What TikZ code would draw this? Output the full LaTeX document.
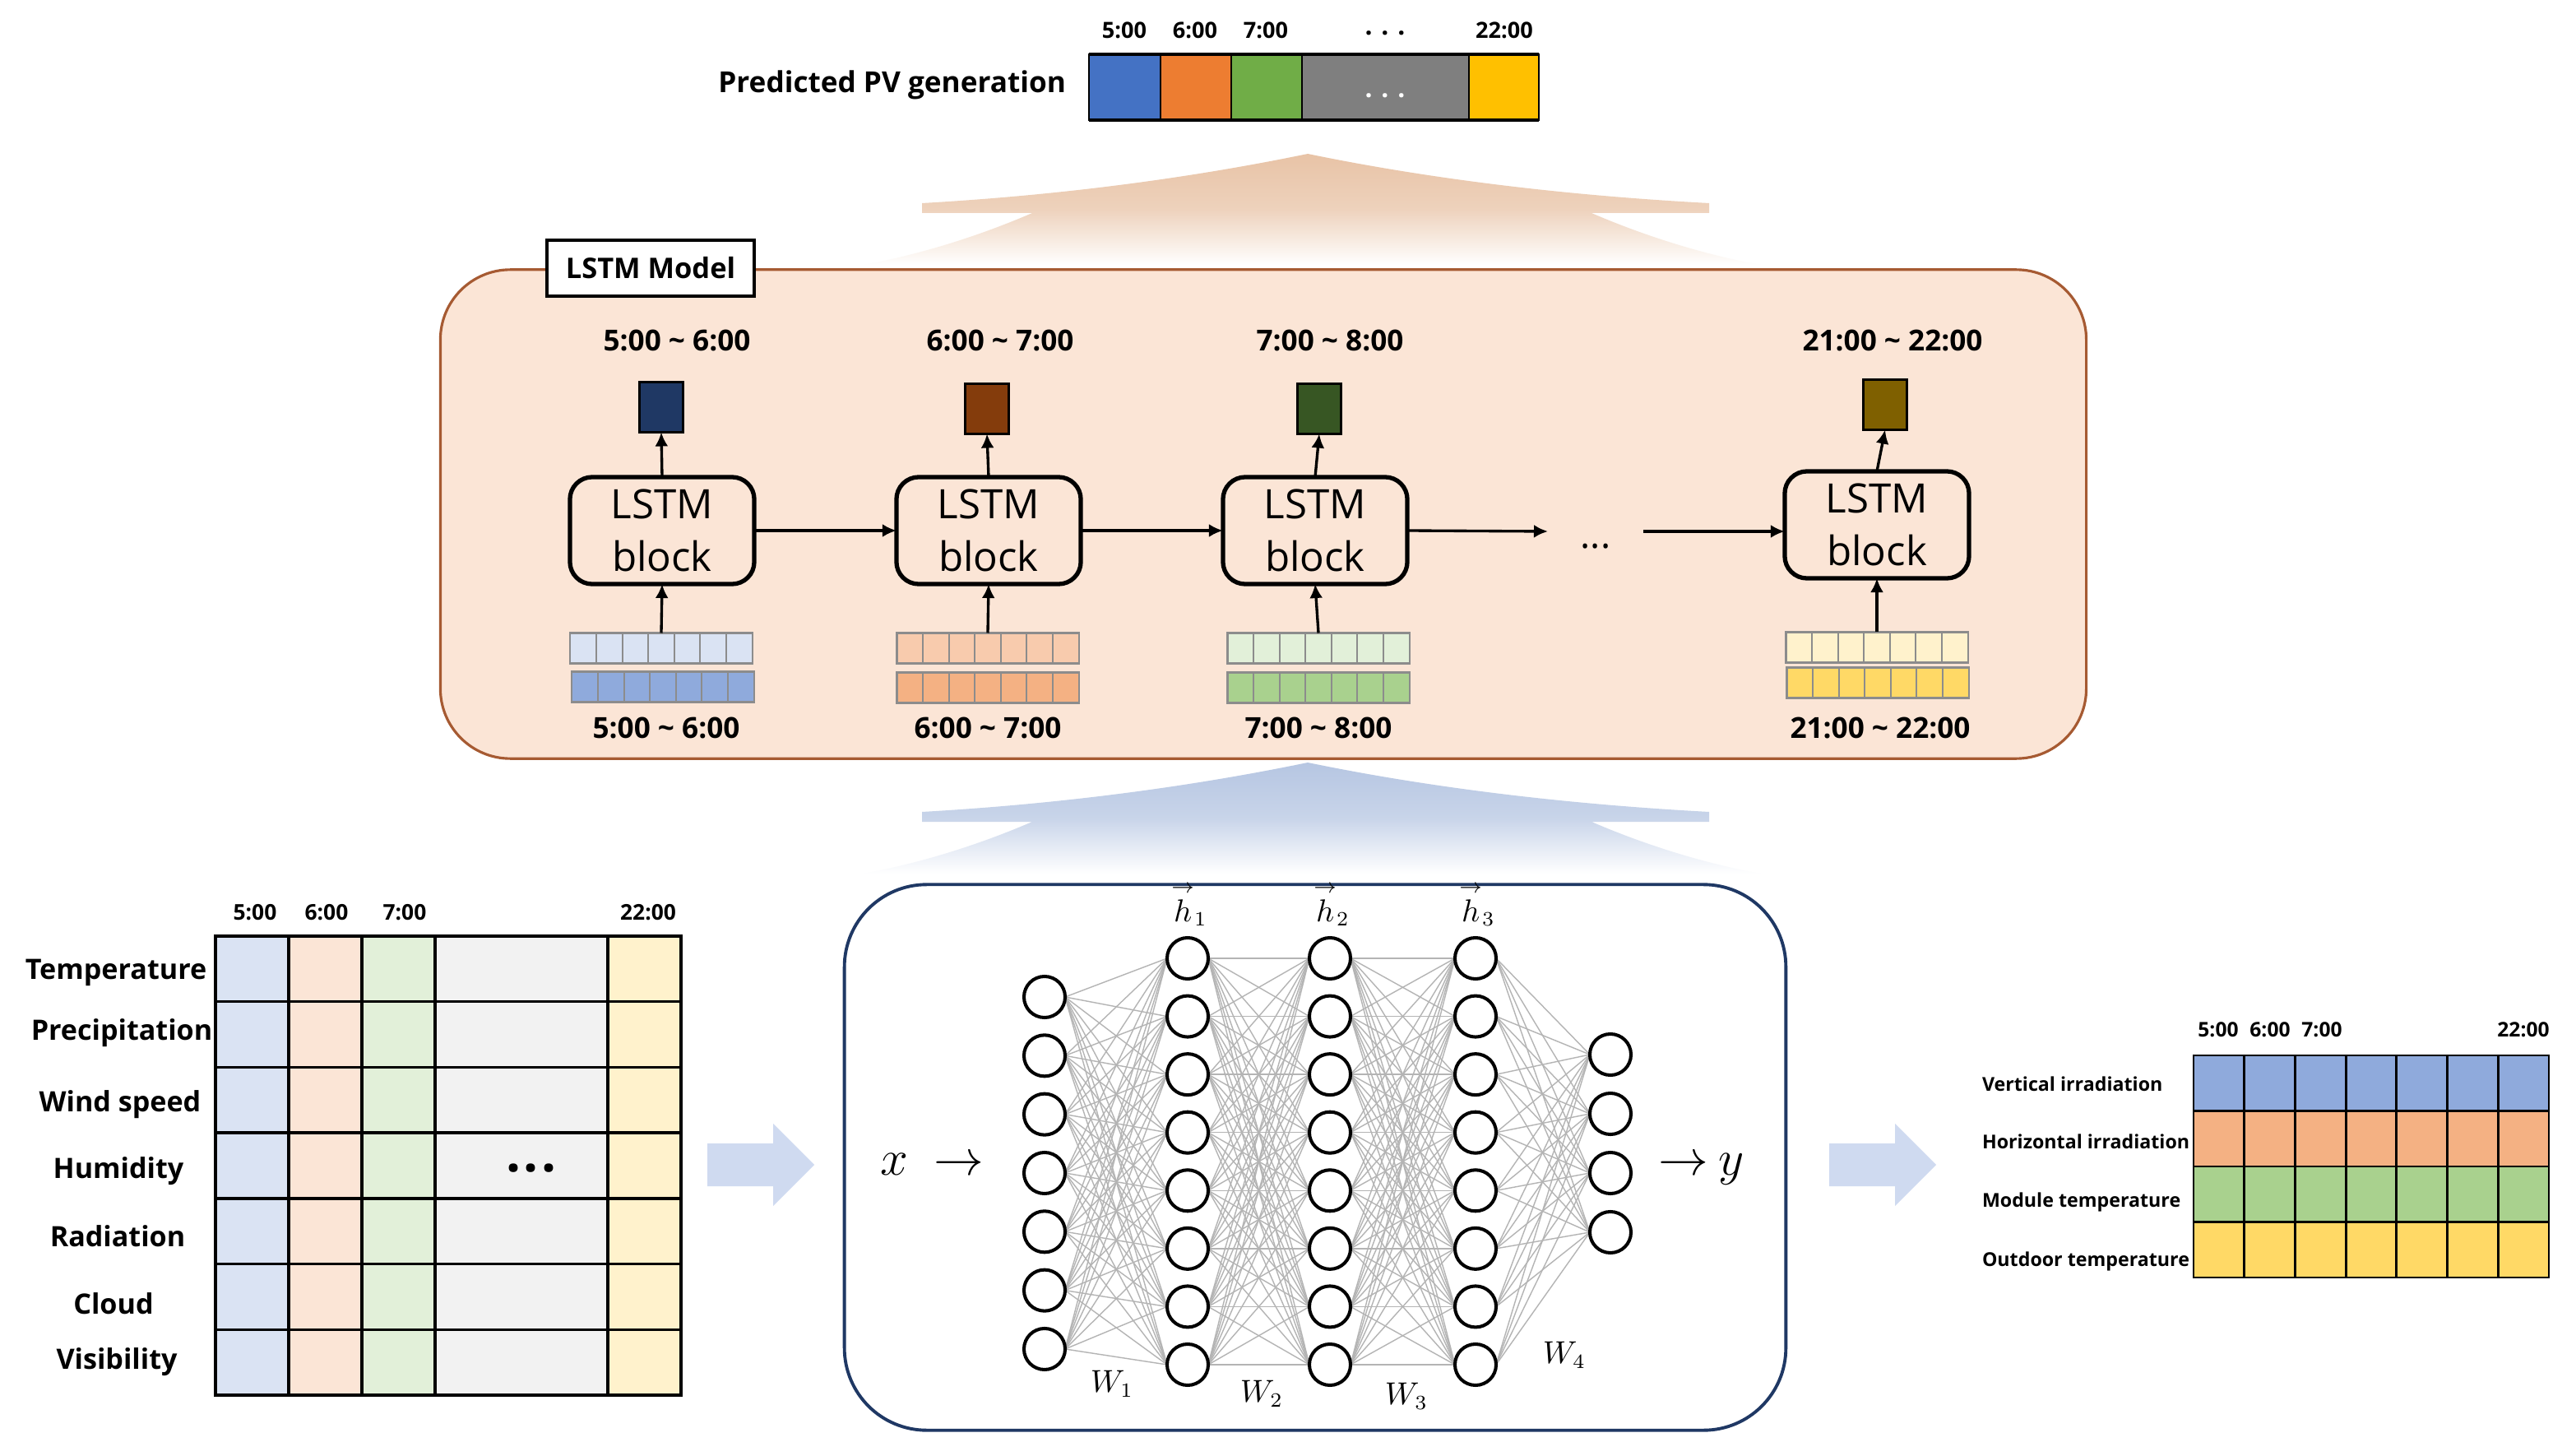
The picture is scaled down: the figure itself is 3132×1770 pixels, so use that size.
\documentclass[tikz,border=0pt]{standalone}
\usepackage{amsmath}
\usepackage[no-math]{fontspec}
\setmainfont{Open Sans}
\usetikzlibrary{arrows.meta,calc}
\pgfdeclarelayer{bgl}
\pgfdeclarelayer{wires}
\pgfsetlayers{bgl,wires,main}
\definecolor{pvblue}{HTML}{4472C4}
\definecolor{pvorange}{HTML}{ED7D31}
\definecolor{pvgreen}{HTML}{70AD47}
\definecolor{pvgray}{HTML}{7F7F7F}
\definecolor{pvyellow}{HTML}{FFC000}
\definecolor{peach}{HTML}{FBE5D6}
\definecolor{peachline}{HTML}{A65A32}
\definecolor{navy}{HTML}{1F3864}
\definecolor{outnavy}{HTML}{1F3864}
\definecolor{outbrown}{HTML}{843C0C}
\definecolor{outgreen}{HTML}{375623}
\definecolor{outolive}{HTML}{7F6000}
\definecolor{lblue}{HTML}{DAE3F3}
\definecolor{mblue}{HTML}{8FAADC}
\definecolor{lorange}{HTML}{F8CBAD}
\definecolor{morange}{HTML}{F4B183}
\definecolor{lgreen}{HTML}{E2F0D9}
\definecolor{mgreen}{HTML}{A9D18E}
\definecolor{lyellow}{HTML}{FFF2CC}
\definecolor{myellow}{HTML}{FFD966}
\definecolor{tblue}{HTML}{DAE3F3}
\definecolor{tpeach}{HTML}{FBE5D6}
\definecolor{tgreen}{HTML}{E2F0D9}
\definecolor{tgray}{HTML}{F2F2F2}
\definecolor{tyellow}{HTML}{FFF2CC}
\definecolor{arrblue}{HTML}{CFDAF0}
\definecolor{fadeor}{HTML}{E8C3A6}
\definecolor{fadebl}{HTML}{B6C6E2}
\definecolor{cellgray}{HTML}{8C8C8C}
\definecolor{wiregray}{HTML}{B4B4B4}
\newcommand\fadearrow[2]{%
\begin{scope}[shift={(0,#1)}]
\shade[top color=#2, bottom color=white, middle color=#2!75]
 (1590,0) .. controls (1420,35) and (1260,52) .. (1121,60) -- (1121,72) -- (1255,72)
 .. controls (1190,100) and (1120,122) .. (1050,135) -- (2140,135)
 .. controls (2070,122) and (2000,100) .. (1935,72) -- (2078,72) -- (2078,60)
 .. controls (1930,52) and (1760,35) .. (1590,0) -- cycle;
\end{scope}}
\newcommand\hvec[1]{\overset{\scriptstyle\rightarrow}{h}_{#1}}
\begin{document}
\begin{tikzpicture}[x=0.01cm,y=-0.01cm,
  every node/.style={inner sep=0pt, outer sep=0pt},
  arr/.style={-{Latex[length=0.17cm,width=0.16cm]}, line width=0.95pt},
  blk/.style={draw, line width=1.5pt, rounded corners=0.27cm, minimum width=2.24cm, minimum height=1.3cm, align=center, font=\fontsize{14}{18}\selectfont},
  outsq/.style={draw, line width=0.8pt, minimum width=0.53cm, minimum height=0.61cm},
  cellrow/.style={draw=cellgray, line width=0.6pt, minimum width=2.21cm, minimum height=0.37cm},
  rng/.style={font=\fontsize{10}{12}\selectfont\bfseries, anchor=base},
  tlbl/.style={font=\fontsize{7.7}{9}\selectfont\bfseries, anchor=base},
  rowlbl/.style={font=\fontsize{9.7}{11}\selectfont\bfseries, anchor=base},
  collbl/.style={font=\fontsize{7.5}{9}\selectfont\bfseries, anchor=base},
  rlbl/.style={font=\fontsize{6.6}{8}\selectfont\bfseries, anchor=base west},
  rcol/.style={font=\fontsize{7}{8}\selectfont\bfseries, anchor=base},
  neuron/.style={circle, draw, line width=1.15pt, fill=white, minimum size=0.5cm},
  wire/.style={draw=wiregray, line width=0.4pt},
  mlbl/.style={font=\fontsize{19}{19}\selectfont, anchor=base},
  hlbl/.style={font=\fontsize{10.5}{11}\selectfont, anchor=base},
  wlbl/.style={font=\fontsize{10.5}{12}\selectfont}
]
\begin{pgfonlayer}{bgl}
\fill[white] (0,0) rectangle (3132,1770);
\end{pgfonlayer}
\useasboundingbox (0,0) rectangle (3132,1770);

% ---------- top: predicted PV generation ----------
\node[font=\fontsize{10}{12}\selectfont\bfseries, anchor=base east] (pvlbl) at (1296,113) {Predicted PV generation};
\foreach \xa/\xb/\fc in {1324/1411/pvblue, 1411/1497/pvorange, 1497/1583/pvgreen, 1583/1786/pvgray, 1786/1871/pvyellow}
  \draw[fill=\fc, line width=0.5pt] (\xa,66) rectangle (\xb,146);
\draw[line width=1.2pt] (1324,66) -- (1871,66) (1324,146) -- (1871,146);
\node[font=\fontsize{9}{10}\selectfont\bfseries, text=white] (pvdots) at (1684,116) {. . .};
\node[tlbl] (t5) at (1367,47) {5:00};
\node[tlbl] (t6) at (1453,47) {6:00};
\node[tlbl] (t7) at (1539,47) {7:00};
\node[font=\fontsize{9}{10}\selectfont\bfseries] (tdots) at (1684,40) {. . .};
\node[tlbl] (t22) at (1829,47) {22:00};

% ---------- fading arrows ----------
\fadearrow{187}{fadeor}
\fadearrow{927}{fadebl}

% ---------- LSTM model ----------
\node[draw=peachline, fill=peach, rounded corners=0.85cm, line width=0.9pt, minimum width=20cm, minimum height=5.94cm] (lstmbox) at (1536,625) {};
\node[draw, fill=white, line width=0.9pt, minimum width=2.52cm, minimum height=0.68cm, font=\fontsize{9.8}{11}\selectfont\bfseries] (modellbl) at (791,326) {LSTM Model};

\node[blk] (b1) at (805,645) {LSTM\\block};
\node[blk] (b2) at (1202,645) {LSTM\\block};
\node[blk] (b3) at (1599,645) {LSTM\\block};
\node[blk] (b4) at (2282,638) {LSTM\\block};

\node[outsq, fill=outnavy] (q1) at (804,495) {};
\node[outsq, fill=outbrown] (q2) at (1200,497) {};
\node[outsq, fill=outgreen] (q3) at (1604,497) {};
\node[outsq, fill=outolive] (q4) at (2292,492) {};

\foreach \nm/\cx/\cy/\fc in {ia1/804/788/lblue, ib1/806/835/mblue, ia2/1201/788/lorange, ib2/1201/836/morange, ia3/1603/788/lgreen, ib3/1603/836/mgreen, ia4/2282/787/lyellow, ib4/2283/830/myellow} {
  \node[cellrow, fill=\fc] (\nm) at (\cx,\cy) {};
  \foreach \k in {1,...,6}
    \draw[cellgray, line width=0.6pt] ($(\nm.north west)!\k/7!(\nm.north east)$) -- ($(\nm.south west)!\k/7!(\nm.south east)$);
}

\foreach \i in {1,2,3,4} {
  \draw[arr] (b\i.north) -- (q\i.south);
  \draw[arr] (ia\i.north) -- (b\i.south);
}
\draw[arr] (b1.east) -- (b2.west);
\draw[arr] (b2.east) -- (b3.west);
\coordinate (ae) at (1882,646);
\coordinate (as) at (1998,646);
\draw[arr] (b3.east) -- (ae);
\node[font=\fontsize{13}{14}\selectfont] (ldots) at (1940,664) {...};
\draw[arr] (as) -- (as -| b4.west);

\node[rng] (r1) at (823,427) {5:00 \textasciitilde{} 6:00};
\node[rng] (r2) at (1216,427) {6:00 \textasciitilde{} 7:00};
\node[rng] (r3) at (1617,427) {7:00 \textasciitilde{} 8:00};
\node[rng] (r4) at (2301,427) {21:00 \textasciitilde{} 22:00};
\node[rng] (s1) at (810,897) {5:00 \textasciitilde{} 6:00};
\node[rng] (s2) at (1201,897) {6:00 \textasciitilde{} 7:00};
\node[rng] (s3) at (1603,897) {7:00 \textasciitilde{} 8:00};
\node[rng] (s4) at (2286,897) {21:00 \textasciitilde{} 22:00};

% ---------- left table ----------
\foreach \xa/\xb/\fc in {262/351/tblue, 351/440/tpeach, 440/529/tgreen, 529/739/tgray, 739/828/tyellow}
  \fill[\fc] (\xa,1138) rectangle (\xb,1696);
\foreach \x in {351,440,529,739} \draw[line width=1pt] (\x,1138) -- (\x,1696);
\foreach \k in {1,...,6} \draw[line width=1pt] (262,{1138+79.71*\k}) -- (828,{1138+79.71*\k});
\draw[line width=1pt] (262,1138) rectangle (828,1696);
\node[font=\fontsize{18}{18}\selectfont\bfseries] (tdots2) at (646,1420) {.\hspace{0.05em}.\hspace{0.05em}.};
\node[collbl] (c5) at (310,1118) {5:00};
\node[collbl] (c6) at (397,1118) {6:00};
\node[collbl] (c7) at (492,1118) {7:00};
\node[collbl] (c22) at (788,1118) {22:00};
\node[rowlbl] (l1) at (141,1190) {Temperature};
\node[rowlbl] (l2) at (148,1264) {Precipitation};
\node[rowlbl] (l3) at (146,1351) {Wind speed};
\node[rowlbl] (l4) at (144,1432) {Humidity};
\node[rowlbl] (l5) at (143,1515) {Radiation};
\node[rowlbl] (l6) at (138,1597) {Cloud};
\node[rowlbl] (l7) at (142,1664) {Visibility};

% ---------- block arrows ----------
\fill[arrblue] (860,1390) -- (940,1390) -- (940,1366) -- (990,1416) -- (940,1466) -- (940,1442) -- (860,1442) -- cycle;
\fill[arrblue] (2224,1390) -- (2304,1390) -- (2304,1366) -- (2354,1416) -- (2304,1466) -- (2304,1442) -- (2224,1442) -- cycle;

% ---------- neural network ----------
\node[draw=navy, line width=1.1pt, rounded corners=1cm, minimum width=11.44cm, minimum height=6.63cm] (nnbox) at (1599,1407) {};
\foreach \k in {0,...,6} \node[neuron] (a\k) at (1270,{1212+71.33*\k}) {};
\foreach \L/\xx in {1/1444,2/1617,3/1794}
  \foreach \k in {0,...,7} \node[neuron] (h\L-\k) at (\xx,{1165+70.57*\k}) {};
\foreach \k in {0,...,3} \node[neuron] (o\k) at (1958,{1282+72*\k}) {};
\begin{pgfonlayer}{wires}
\foreach \i in {0,...,6} \foreach \j in {0,...,7} \draw[wire] (a\i.east) -- (h1-\j.west);
\foreach \i in {0,...,7} \foreach \j in {0,...,7} {
  \draw[wire] (h1-\i.east) -- (h2-\j.west);
  \draw[wire] (h2-\i.east) -- (h3-\j.west);
}
\foreach \i in {0,...,7} \foreach \j in {0,...,3} \draw[wire] (h3-\i.east) -- (o\j.west);
\end{pgfonlayer}
\node[mlbl] (xl) at (1087,1428) {$x$};
\node[mlbl] (xa) at (1166,1428) {$\rightarrow$};
\node[mlbl] (ya) at (2047,1428) {$\rightarrow$};
\node[mlbl] (yl) at (2105,1428) {$y$};
\node[hlbl] (hl1) at (1446,1120) {$\hvec{1}$};
\node[hlbl] (hl2) at (1619,1120) {$\hvec{2}$};
\node[hlbl] (hl3) at (1796,1120) {$\hvec{3}$};
\node[wlbl] (w1) at (1352,1682) {$W_1$};
\node[wlbl] (w2) at (1534,1694) {$W_2$};
\node[wlbl] (w3) at (1710,1697) {$W_3$};
\node[wlbl] (w4) at (1902,1647) {$W_4$};

% ---------- right table ----------
\foreach \yy/\fc in {0/mblue,1/morange,2/mgreen,3/myellow}
  \fill[\fc] (2667,{1283+67.5*\yy}) rectangle (3099,{1283+67.5*(\yy+1)});
\foreach \k in {1,...,6} \draw[line width=0.8pt] ({2667+61.71*\k},1283) -- ({2667+61.71*\k},1553);
\foreach \k in {1,2,3} \draw[line width=0.8pt] (2667,{1283+67.5*\k}) -- (3099,{1283+67.5*\k});
\draw[line width=0.8pt] (2667,1283) rectangle (3099,1553);
\node[rcol] (rc5) at (2697,1260) {5:00};
\node[rcol] (rc6) at (2760,1260) {6:00};
\node[rcol] (rc7) at (2823,1260) {7:00};
\node[rcol] (rc22) at (3068,1260) {22:00};
\node[rlbl] (rl1) at (2410,1326) {Vertical irradiation};
\node[rlbl] (rl2) at (2410,1396) {Horizontal irradiation};
\node[rlbl] (rl3) at (2410,1467) {Module temperature};
\node[rlbl] (rl4) at (2410,1539) {Outdoor temperature};
\end{tikzpicture}
\end{document}
